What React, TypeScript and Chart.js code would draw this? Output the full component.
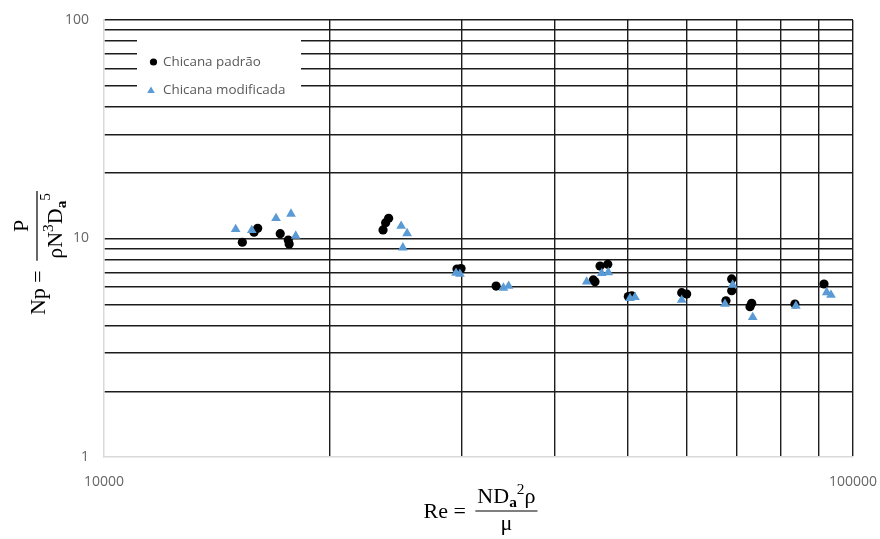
import React, { useEffect, useRef } from 'react';
import { Chart, registerables } from 'chart.js';

Chart.register(...registerables);

const seriesNames = ['Chicana padrão', 'Chicana modificada'];

const padraoRe = [15300, 15860, 16040, 17190, 17620, 17670, 23580, 23770, 23990, 29600, 29970, 33380, 45950, 47050, 45240, 45010, 50650, 50120, 59060, 59970, 68870, 68870, 67670, 73240, 72860, 83650, 91470];
const padraoNp = [9.61, 10.68, 11.14, 10.52, 9.84, 9.44, 10.94, 11.81, 12.37, 7.25, 7.29, 6.06, 7.48, 7.62, 6.34, 6.46, 5.47, 5.42, 5.65, 5.57, 6.53, 5.77, 5.19, 5.05, 4.875, 5.015, 6.19];

const modRe = [14990, 15750, 16970, 17770, 18030, 24930, 25390, 25060, 29510, 29870, 34140, 34690, 44100, 46190, 47130, 50380, 51160, 59060, 69080, 67460, 73470, 83910, 92230, 93460];
const modNp = [11.02, 10.9, 12.37, 12.95, 10.27, 11.41, 10.56, 9.08, 6.95, 6.88, 5.94, 6.06, 6.34, 6.93, 7.0, 5.325, 5.38, 5.23, 6.13, 5.015, 4.36, 4.91, 5.67, 5.51];

const xGridValues = [10000, 20000, 30000, 40000, 50000, 60000, 70000, 80000, 90000, 100000];
const yGridValues = [1, 2, 3, 4, 5, 6, 7, 8, 9, 10, 20, 30, 40, 50, 60, 70, 80, 90, 100];
const xTickLabels = [10000, 100000];
const yTickLabels = [1, 10, 100];

const BLUE = '#5B9BD5';
const GRID = '#1c1c1c';
const TICK_COLOR = '#666666';
const SERIF = '"Liberation Serif", serif';

type Run = { t: string; s?: number; dy?: number; bold?: boolean };

function runsWidth(ctx: CanvasRenderingContext2D, runs: Run[], size: number) {
  let w = 0;
  for (const r of runs) {
    ctx.font = `${r.bold ? 'bold ' : ''}${size * (r.s ?? 1)}px ${SERIF}`;
    w += ctx.measureText(r.t).width;
  }
  return w;
}

function drawRuns(ctx: CanvasRenderingContext2D, runs: Run[], x: number, y: number, size: number) {
  for (const r of runs) {
    ctx.font = `${r.bold ? 'bold ' : ''}${size * (r.s ?? 1)}px ${SERIF}`;
    ctx.fillText(r.t, x, y + (r.dy ?? 0));
    x += ctx.measureText(r.t).width;
  }
}

function drawFormula(
  ctx: CanvasRenderingContext2D,
  lhs: Run[],
  num: Run[],
  den: Run[],
  size: number,
  lhsBase: number,
  numBase: number,
  denBase: number
) {
  const lw = runsWidth(ctx, lhs, size);
  const nw = runsWidth(ctx, num, size);
  const dw = runsWidth(ctx, den, size);
  const fw = Math.max(nw, dw) + 4;
  const gap = 4;
  const total = lw + gap + fw;
  const x0 = -total / 2;
  ctx.fillStyle = '#000';
  ctx.textBaseline = 'alphabetic';
  ctx.textAlign = 'left';
  drawRuns(ctx, lhs, x0, lhsBase, size);
  const fx = x0 + lw + gap;
  ctx.strokeStyle = '#000';
  ctx.lineWidth = 1.2;
  ctx.beginPath();
  ctx.moveTo(fx, 0);
  ctx.lineTo(fx + fw, 0);
  ctx.stroke();
  drawRuns(ctx, num, fx + (fw - nw) / 2, numBase, size);
  drawRuns(ctx, den, fx + (fw - dw) / 2, denBase, size);
}

const decorPlugin = {
  id: 'decor',
  afterDraw(chart: any) {
    const ctx: CanvasRenderingContext2D = chart.ctx;
    const ca = chart.chartArea;
    ctx.save();
    // legend box
    ctx.fillStyle = '#ffffff';
    ctx.fillRect(137, 33, 164, 71);
    ctx.fillStyle = '#000';
    ctx.beginPath();
    ctx.arc(153.5, 62, 3.6, 0, Math.PI * 2);
    ctx.fill();
    ctx.fillStyle = BLUE;
    ctx.beginPath();
    ctx.moveTo(151, 86.5);
    ctx.lineTo(154.8, 93);
    ctx.lineTo(147.2, 93);
    ctx.closePath();
    ctx.fill();
    ctx.fillStyle = '#595959';
    ctx.font = '13.4px "Open Sans", sans-serif';
    ctx.textBaseline = 'middle';
    ctx.textAlign = 'left';
    ctx.fillText(seriesNames[0], 163, 62);
    ctx.fillText(seriesNames[1], 163, 90);

    // x-axis title
    const cx = (ca.left + ca.right) / 2 + 2;
    ctx.save();
    ctx.translate(cx, 511);
    drawFormula(
      ctx,
      [{ t: 'Re = ' }],
      [{ t: 'ND' }, { t: 'a', s: 0.7, dy: 4, bold: true }, { t: '2', s: 0.7, dy: -9 }, { t: 'ρ' }],
      [{ t: 'μ' }],
      22,
      7,
      -8,
      19
    );
    ctx.restore();

    // y-axis title
    ctx.save();
    ctx.translate(37, 253);
    ctx.rotate(-Math.PI / 2);
    drawFormula(
      ctx,
      [{ t: 'Np = ' }],
      [{ t: 'P' }],
      [{ t: 'ρN' }, { t: '3', s: 0.7, dy: -9 }, { t: 'D' }, { t: 'a', s: 0.7, dy: 4, bold: true }, { t: '5', s: 0.7, dy: -12 }],
      22,
      8,
      -9,
      25
    );
    ctx.restore();
    ctx.restore();
  },
};

function zeroPadding(s: any) {
  s.paddingLeft = 0;
  s.paddingRight = 0;
  s.paddingTop = 0;
  s.paddingBottom = 0;
}

export default function App() {
  const ref = useRef<HTMLCanvasElement>(null);
  useEffect(() => {
    if (!ref.current) return;
    const chart = new Chart(ref.current, {
      type: 'scatter',
      data: {
        datasets: [
          {
            label: seriesNames[0],
            data: padraoRe.map((x, i) => ({ x, y: padraoNp[i] })),
            order: 1,
            pointStyle: 'circle',
            pointRadius: 4.6,
            backgroundColor: '#000000',
            borderColor: '#000000',
            borderWidth: 0,
          },
          {
            label: seriesNames[1],
            data: modRe.map((x, i) => ({ x, y: modNp[i] })),
            order: 0,
            pointStyle: 'triangle',
            pointRadius: 5.6,
            backgroundColor: BLUE,
            borderColor: BLUE,
            borderWidth: 0,
          },
        ],
      },
      options: {
        animation: false,
        responsive: false,
        layout: { padding: { left: 0, top: 20, right: 27, bottom: 0 } },
        plugins: {
          legend: { display: false },
          tooltip: { enabled: false },
        },
        scales: {
          x: {
            type: 'logarithmic',
            min: 10000,
            max: 100000,
            afterBuildTicks: (s: any) => {
              s.ticks = xGridValues.map((v) => ({ value: v }));
            },
            afterFit: (s: any) => {
              s.height = 82;
              zeroPadding(s);
            },
            ticks: {
              autoSkip: false,
              maxRotation: 0,
              padding: 17,
              color: TICK_COLOR,
              font: { family: '"Open Sans", sans-serif', size: 14 },
              callback: (v: any) => (xTickLabels.includes(Number(v)) ? String(v) : ''),
            },
            grid: {
              drawTicks: false,
              lineWidth: 1.4,
              color: (c: any) => (c.tick && c.tick.value === xGridValues[0] ? 'rgba(0,0,0,0)' : GRID),
            },
            border: { color: '#d9d9d9', width: 1.5 },
          },
          y: {
            type: 'logarithmic',
            min: 1,
            max: 100,
            afterBuildTicks: (s: any) => {
              s.ticks = yGridValues.map((v) => ({ value: v }));
            },
            afterFit: (s: any) => {
              s.width = 104;
              zeroPadding(s);
            },
            ticks: {
              autoSkip: false,
              padding: 15,
              color: TICK_COLOR,
              font: { family: '"Open Sans", sans-serif', size: 14 },
              callback: (v: any) => (yTickLabels.includes(Number(v)) ? String(v) : ''),
            },
            grid: {
              drawTicks: false,
              lineWidth: 1.4,
              color: (c: any) => (c.tick && c.tick.value === yGridValues[0] ? 'rgba(0,0,0,0)' : GRID),
            },
            border: { color: '#d9d9d9', width: 1.5 },
          },
        },
      },
      plugins: [decorPlugin],
    });
    return () => chart.destroy();
  }, []);
  return (
    <div style={{ position: 'fixed', left: 0, top: 0, width: 880, height: 539, background: '#fff' }}>
      <canvas ref={ref} width={880} height={539} style={{ display: 'block' }} />
    </div>
  );
}
